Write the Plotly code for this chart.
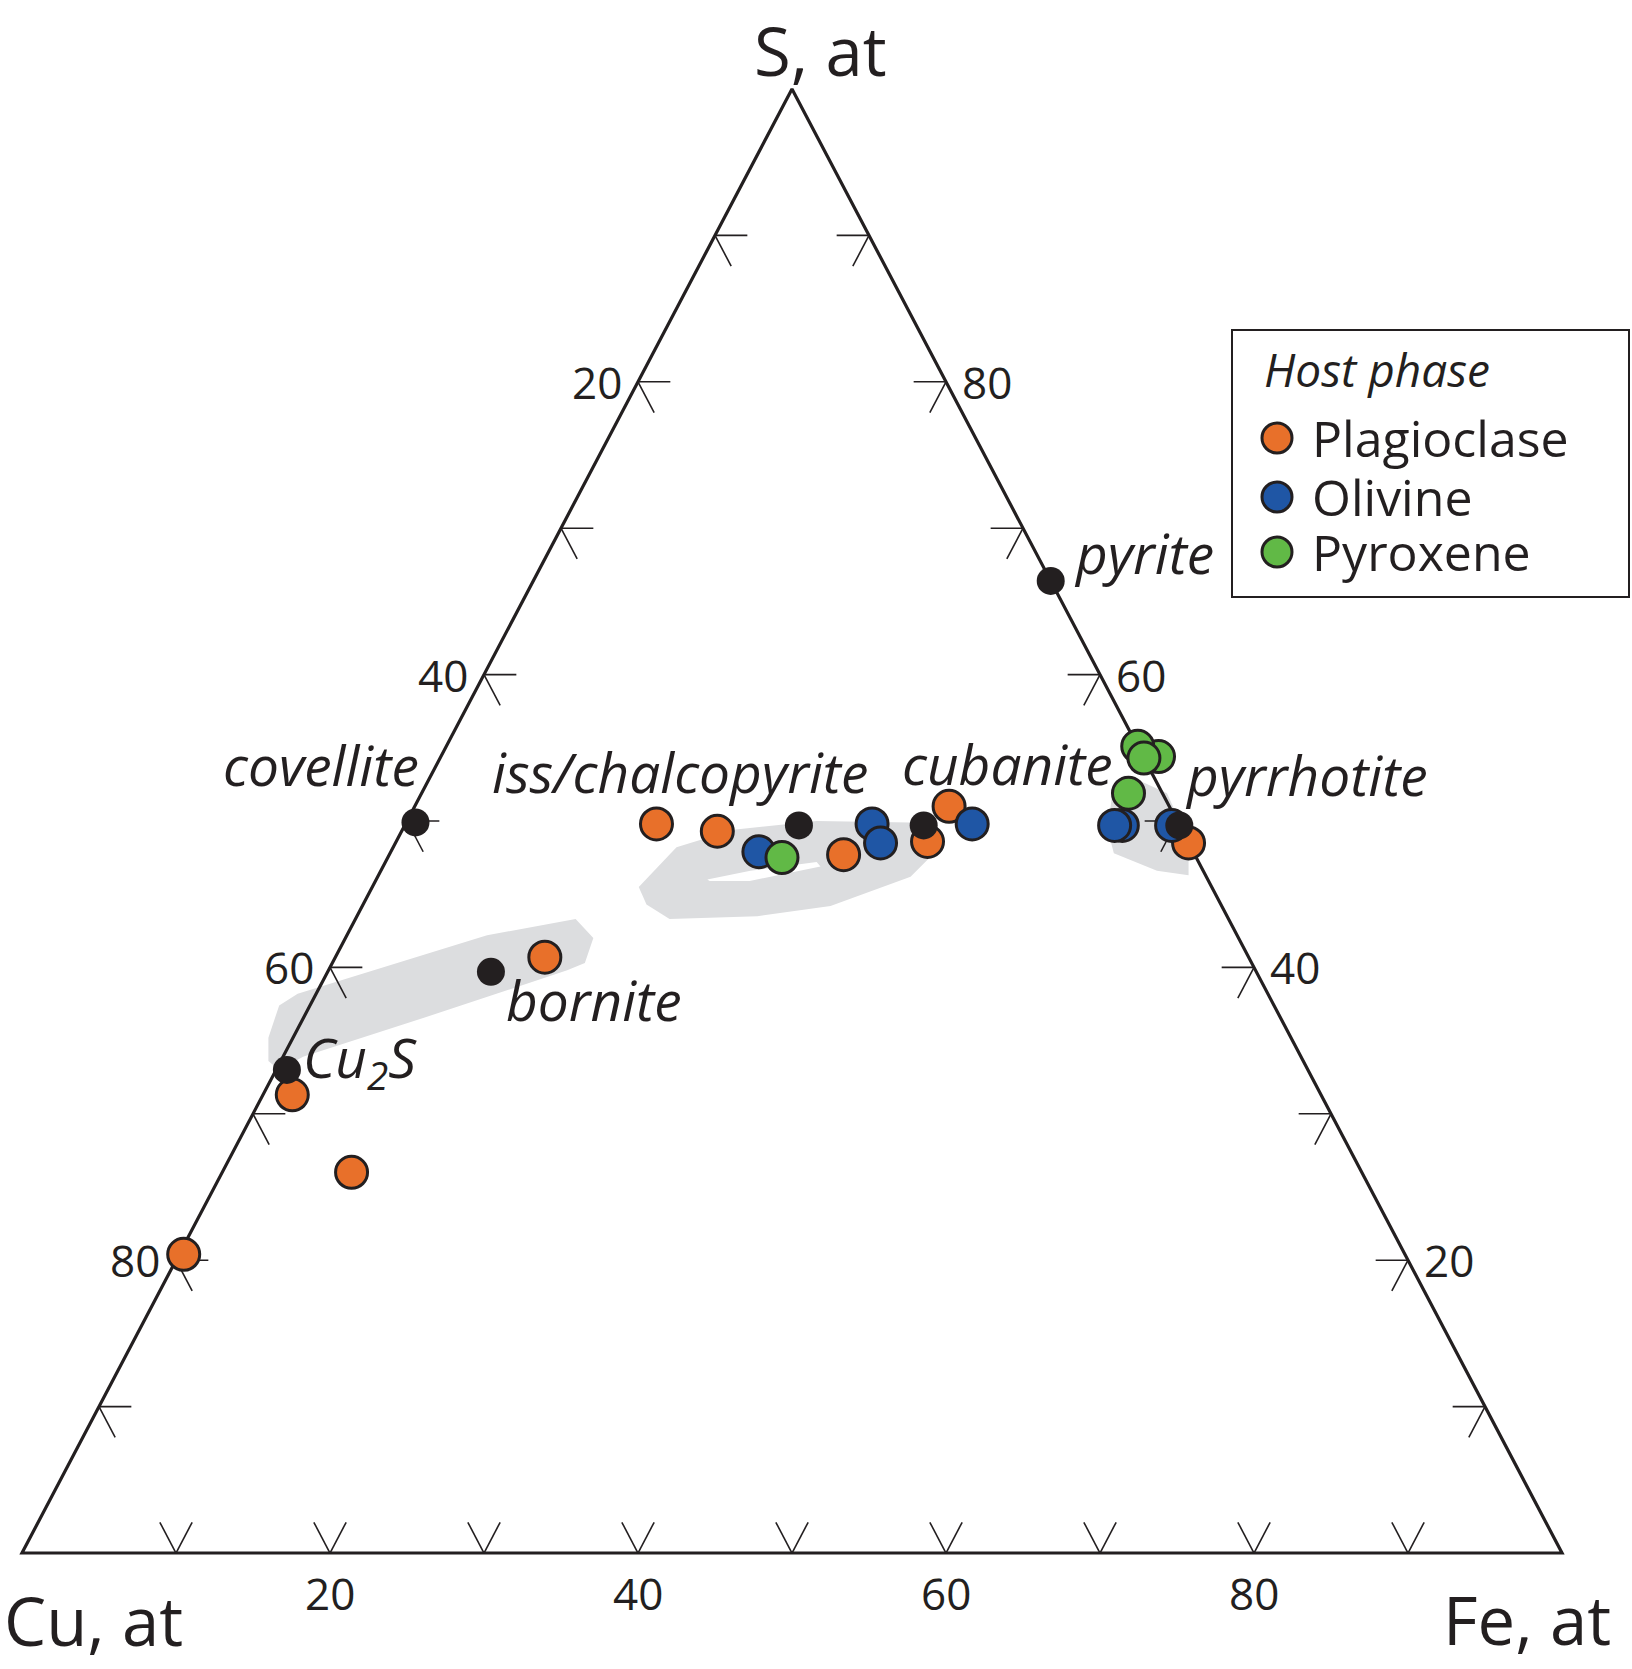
import plotly.graph_objects as go

# ---------------- data: compositions in atomic % ----------------
# Host phase: Plagioclase
plag_S = [49.8, 49.3, 47.7, 48.6, 51.0, 48.5, 40.7, 31.3, 26.0, 20.4]
plag_Fe = [16.3, 20.5, 29.5, 34.5, 34.7, 51.5, 13.6, 1.9, 8.4, 0.3]
plag_Cu = [33.9, 30.2, 22.8, 16.9, 14.3, 0.0, 45.7, 66.8, 65.6, 79.3]

# Host phase: Olivine
oliv_S = [47.9, 49.8, 48.5, 49.8, 49.7, 49.7, 49.7]
oliv_Fe = [23.9, 30.3, 31.5, 36.8, 46.6, 46.1, 49.8]
oliv_Cu = [28.2, 19.9, 20.0, 13.4, 3.7, 4.2, 0.5]

# Host phase: Pyroxene
pyx_S = [54.4, 55.1, 54.3, 51.9, 47.5]
pyx_Fe = [46.6, 44.9, 45.7, 45.9, 25.6]
pyx_Cu = [-1.0, 0.0, 0.0, 2.2, 26.9]

# Reference minerals
mineral_names = ["pyrite", "covellite", "iss/chalcopyrite", "cubanite",
                 "pyrrhotite", "bornite", "Cu<sub>2</sub>S"]
mineral_S = [66.4, 49.9, 49.7, 49.7, 49.7, 39.7, 33.0]
mineral_Fe = [33.6, 0.6, 25.6, 33.7, 50.3, 10.6, 0.7]
mineral_Cu = [0.0, 49.5, 24.7, 16.6, 0.0, 49.7, 66.3]

# Shaded compositional fields (outline vertices, S and Fe at.%; Cu = rest)
field_bornite_S = [33.6, 35.2, 37.4, 38.2, 42.2, 43.3, 42.0, 40.3, 39.8, 36.6, 33.9, 33.0]
field_bornite_Fe = [-0.8, -1.6, -2.0, -1.2, 9.1, 14.3, 16.1, 16.4, 15.5, 7.9, 1.3, 0.2]
field_iss_outer_S = [45.5, 48.2, 49.4, 50.0, 49.9, 47.5, 46.2, 44.2, 43.5, 43.3, 44.3]
field_iss_outer_Fe = [17.3, 18.4, 21.5, 26.6, 32.7, 35.2, 34.6, 30.4, 26.0, 20.4, 18.4]
field_iss_inner_S = [46.0, 46.6, 47.2, 46.9, 45.9, 45.9]
field_iss_inner_Fe = [21.5, 24.0, 28.0, 28.4, 24.3, 21.7]
field_po_S = [53.1, 52.6, 51.9, 50.5, 47.9, 46.3, 46.6, 47.8, 49.4, 51.5]
field_po_Fe = [45.0, 46.6, 48.4, 49.7, 51.8, 52.6, 50.4, 47.0, 45.8, 45.0]

# Axis ticks
tick_values = [10, 20, 30, 40, 50, 60, 70, 80, 90]
label_values = [20, 40, 60, 80]

# ---------------- styles ----------------
INK = "#231f20"
ORANGE = "#e8702a"
BLUE = "#1f56a5"
GREEN = "#61b946"
FIELD_GRAY = "#dcdddf"
FONT = "Open Sans"
W, H = 1632, 1669
TICK_LEN = 2.1  # at.%

label_shift = {
    "pyrite": (93, 28),
    "covellite": (-94, 58),
    "iss/chalcopyrite": (-119, 54),
    "cubanite": (84, 62),
    "pyrrhotite": (127, 51),
    "bornite": (103, -28),
    "Cu<sub>2</sub>S": (73, 10),
}


def to_xy(S, Fe, Cu=None):
    """Project S-Cu-Fe compositions onto the triangle (Cu bottom-left, Fe bottom-right, S top)."""
    xs, ys = [], []
    for i, (s, f) in enumerate(zip(S, Fe)):
        if s is None:
            xs.append(None)
            ys.append(None)
            continue
        c = Cu[i] if Cu is not None else 100 - s - f
        t = s + f + c
        s_, f_ = 100 * s / t, 100 * f / t
        xs.append(f_ + s_ / 2)
        ys.append(s_)
    return xs, ys


fig = go.Figure()


def add_field(S, Fe, color):
    x, y = to_xy(S + S[:1], Fe + Fe[:1])
    fig.add_trace(go.Scatter(x=x, y=y, mode="lines", fill="toself", fillcolor=color,
                             line=dict(width=0, color=color), hoverinfo="skip"))


add_field(field_bornite_S, field_bornite_Fe, FIELD_GRAY)
add_field(field_iss_outer_S, field_iss_outer_Fe, FIELD_GRAY)
add_field(field_iss_inner_S, field_iss_inner_Fe, "white")
add_field(field_po_S, field_po_Fe, FIELD_GRAY)

# triangle frame
frame_S = [0, 0, 100, 0, 0]
frame_Fe = [50, 100, 0, 0, 50]
fx, fy = to_xy(frame_S, frame_Fe)
fig.add_trace(go.Scatter(x=fx, y=fy, mode="lines", line=dict(color=INK, width=3.2),
                         hoverinfo="skip"))

# tick marks (two short strokes along the other grid directions)
tS, tFe = [], []
for v in tick_values:
    s0 = 100 - v
    tS += [s0, s0, None, s0, s0 - TICK_LEN, None]
    tFe += [0, TICK_LEN, None, 0, TICK_LEN, None]
    tS += [0, TICK_LEN, None, 0, TICK_LEN, None]
    tFe += [v, v - TICK_LEN, None, v, v, None]
    tS += [v, v, None, v, v - TICK_LEN, None]
    tFe += [100 - v, 100 - v - TICK_LEN, None, 100 - v, 100 - v, None]
tx, ty = to_xy(tS, tFe)
fig.add_trace(go.Scatter(x=tx, y=ty, mode="lines", line=dict(color=INK, width=1.6),
                         connectgaps=False, hoverinfo="skip"))

# data points
for S, Fe, Cu, color, name in [
    (plag_S, plag_Fe, plag_Cu, ORANGE, "Plagioclase"),
    (oliv_S, oliv_Fe, oliv_Cu, BLUE, "Olivine"),
    (pyx_S, pyx_Fe, pyx_Cu, GREEN, "Pyroxene"),
]:
    x, y = to_xy(S, Fe, Cu)
    fig.add_trace(go.Scatter(x=x, y=y, mode="markers", name=name,
                             marker=dict(size=32, color=color, line=dict(color=INK, width=3)),
                             hoverinfo="skip"))

mx, my = to_xy(mineral_S, mineral_Fe, mineral_Cu)
fig.add_trace(go.Scatter(x=mx, y=my, mode="markers", name="minerals",
                         marker=dict(size=28, color=INK, line=dict(width=0)),
                         hoverinfo="skip"))

annotations = []
# mineral labels
for name, x, y in zip(mineral_names, mx, my):
    dx, dy = label_shift[name]
    annotations.append(dict(x=x, y=y, xref="x", yref="y", text="<i>" + name + "</i>",
                            showarrow=False, xshift=dx, yshift=dy,
                            xanchor="center", yanchor="middle",
                            font=dict(family=FONT, size=55, color=INK)))

# tick labels
for v in label_values:
    lx, ly = to_xy([100 - v], [0])
    annotations.append(dict(x=lx[0], y=ly[0], xref="x", yref="y", text=str(v), showarrow=False,
                            xanchor="right", yanchor="middle", xshift=-14,
                            font=dict(family=FONT, size=44, color=INK)))
    bx, by = to_xy([0], [v])
    annotations.append(dict(x=bx[0], y=by[0], xref="x", yref="y", text=str(v), showarrow=False,
                            xanchor="center", yanchor="middle", yshift=-40,
                            font=dict(family=FONT, size=44, color=INK)))
    rx, ry = to_xy([v], [100 - v])
    annotations.append(dict(x=rx[0], y=ry[0], xref="x", yref="y", text=str(v), showarrow=False,
                            xanchor="left", yanchor="middle", xshift=14,
                            font=dict(family=FONT, size=44, color=INK)))

# corner (apex) labels
for S, Fe, txt, dx, dy in [(100, 0, "S, at", 28, 39), (0, 0, "Cu, at", 71, -67),
                           (0, 100, "Fe, at", -35, -66)]:
    cx, cy = to_xy([S], [Fe])
    annotations.append(dict(x=cx[0], y=cy[0], xref="x", yref="y", text=txt, showarrow=False,
                            xanchor="center", yanchor="middle", xshift=dx, yshift=dy,
                            font=dict(family=FONT, size=67, color=INK)))


# legend (drawn box, swatches and text)
def px(v):
    return v / W


def py(v):
    return 1 - v / H


shapes = [dict(type="rect", xref="paper", yref="paper", x0=px(1232), x1=px(1629),
               y0=py(597), y1=py(330), line=dict(color=INK, width=2), fillcolor="white",
               layer="above")]
annotations.append(dict(x=px(1262), y=py(369), xref="paper", yref="paper",
                        text="<i>Host phase</i>", showarrow=False,
                        xanchor="left", yanchor="middle",
                        font=dict(family=FONT, size=46, color=INK)))
for name, color, cy in [("Plagioclase", ORANGE, 438), ("Olivine", BLUE, 497),
                        ("Pyroxene", GREEN, 552)]:
    shapes.append(dict(type="circle", xref="paper", yref="paper", xsizemode="pixel",
                       ysizemode="pixel", xanchor=px(1277), yanchor=py(cy),
                       x0=-15, x1=15, y0=-15, y1=15, fillcolor=color,
                       line=dict(color=INK, width=3), layer="above"))
    annotations.append(dict(x=px(1310), y=py(cy), xref="paper", yref="paper", text=name,
                            showarrow=False, xanchor="left", yanchor="middle",
                            font=dict(family=FONT, size=50, color=INK)))

fig.update_layout(
    width=W, height=H, margin=dict(l=0, r=0, t=0, b=0, pad=0),
    paper_bgcolor="white", plot_bgcolor="white", showlegend=False,
    xaxis=dict(range=[-1.4286, 104.545], visible=False, fixedrange=True),
    yaxis=dict(range=[-7.923, 106.079], visible=False, fixedrange=True),
    shapes=shapes, annotations=annotations,
)

fig.write_html("out.html")
